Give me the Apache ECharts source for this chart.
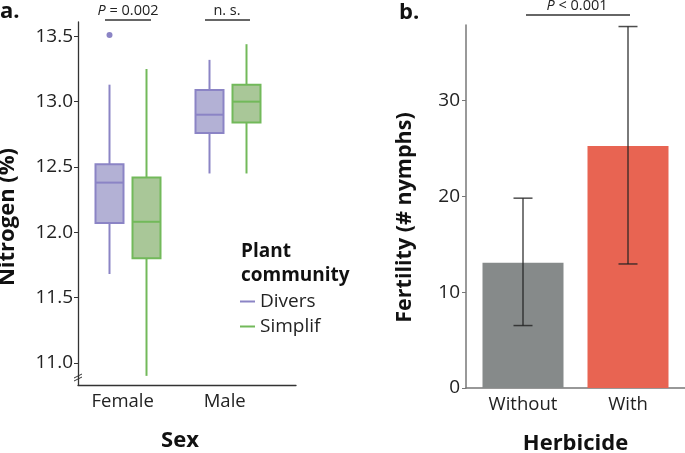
<!DOCTYPE html>
<html><head><meta charset="utf-8">
<script src="https://cdn.jsdelivr.net/npm/echarts@6/dist/echarts.min.js"></script>
<style>html,body{margin:0;padding:0;background:#fff}#c{width:685px;height:453px}</style>
</head><body><div id="c"></div>
<script>
// Panel a: nitrogen boxplots [min, Q1, median, Q3, max]
const sexCategories = ['Female', 'Male'];
const diversBox = [[11.68, 12.07, 12.38, 12.52, 13.13], [12.45, 12.76, 12.90, 13.09, 13.32]];
const simplifBox = [[10.90, 11.80, 12.08, 12.42, 13.25], [12.45, 12.84, 13.00, 13.13, 13.44]];
const diversOutliers = [[0, 13.51]];
const nitrogenTicks = [11.0, 11.5, 12.0, 12.5, 13.0, 13.5];
// Panel b: fertility bars
const herbicideCategories = ['Without', 'With'];
const fertilityMean = [13.08, 25.27];
const fertilityLow = [6.52, 12.95];
const fertilityHigh = [19.82, 37.74];
const fertilityTicks = [0, 10, 20, 30];

const FONT = 'Open Sans';
const aMin = 10.83, aMax = 13.61;
const bMax = 37.9;
const hidY = (min, max, gi) => ({type:'value', gridIndex:gi, min, max, show:false});
const G = (o) => Object.assign({outerBoundsMode:'none', containLabel:false}, o);

function boxRenderer(offsetFrac, fill, stroke) {
  return (params, api) => {
    const band = api.size([1, 0])[0];
    const cx = api.coord([api.value(0), 0])[0] + offsetFrac * band;
    const y = (k) => api.coord([api.value(0), api.value(k)])[1];
    const hw = 14;
    const yMin = y(1), yQ1 = y(2), yMed = y(3), yQ3 = y(4), yMax = y(5);
    const ls = {stroke, lineWidth:2};
    return {type:'group', children:[
      {type:'line', shape:{x1:cx, y1:yMax, x2:cx, y2:yQ3}, style:ls},
      {type:'line', shape:{x1:cx, y1:yQ1, x2:cx, y2:yMin}, style:ls},
      {type:'rect', shape:{x:cx-hw, y:yQ3, width:2*hw, height:yQ1-yQ3}, style:{fill, stroke, lineWidth:2}},
      {type:'line', shape:{x1:cx-hw, y1:yMed, x2:cx+hw, y2:yMed}, style:ls}
    ]};
  };
}
const boxData = (arr) => arr.map((b, i) => [i].concat(b));

const chart = echarts.init(document.getElementById('c'));
chart.setOption({
  animation:false,
  textStyle:{fontFamily:FONT},
  grid:[
    G({left:78, width:218, top:22, bottom:68}),      // 0 axes a
    G({left:78, width:200, top:22, bottom:68}),      // 1 boxes
    G({left:71.7, width:204, top:22, bottom:68}),    // 2 labels a
    G({left:466, right:0, top:25, bottom:65}),       // 3 axes b
    G({left:470.5, width:210, top:25, bottom:65})    // 4 bars b
  ],
  xAxis:[
    {type:'category', gridIndex:0, data:['',''], axisLine:{lineStyle:{color:'#333', width:1.3}}, axisTick:{show:false}, axisLabel:{show:false}},
    {type:'category', gridIndex:1, data:sexCategories, show:false},
    {type:'category', gridIndex:2, data:sexCategories, axisLine:{show:false}, axisTick:{show:false},
     axisLabel:{fontSize:18.5, color:'#222', margin:7, fontFamily:FONT}},
    {type:'category', gridIndex:3, data:['',''], axisLine:{lineStyle:{color:'#777', width:1.5}}, axisTick:{show:false}, axisLabel:{show:false},
     name:'Herbicide', nameLocation:'middle', nameGap:45, nameTextStyle:{fontSize:22, fontWeight:'bold', color:'#111', fontFamily:FONT}},
    {type:'category', gridIndex:4, data:herbicideCategories, axisLine:{show:false}, axisTick:{show:false},
     axisLabel:{fontSize:18.5, color:'#222', margin:7, fontFamily:FONT}}
  ],
  yAxis:[
    {type:'value', gridIndex:0, min:aMin, max:aMax, splitLine:{show:false},
     axisLine:{show:true, lineStyle:{color:'#333', width:1.3}},
     axisTick:{show:true, length:4, customValues:nitrogenTicks, lineStyle:{color:'#333'}},
     axisLabel:{fontSize:19, color:'#222', margin:5, customValues:nitrogenTicks, formatter:v=>v.toFixed(1), fontFamily:FONT},
     name:'Nitrogen (%)', nameLocation:'middle', nameGap:59, nameTextStyle:{fontSize:22, fontWeight:'bold', color:'#111', fontFamily:FONT, padding:[0,27,0,0]}},
    hidY(aMin, aMax, 1), hidY(aMin, aMax, 2),
    {type:'value', gridIndex:3, min:0, max:bMax, splitLine:{show:false},
     axisLine:{show:true, lineStyle:{color:'#777', width:1.5}},
     axisTick:{show:true, length:4, customValues:fertilityTicks, lineStyle:{color:'#777'}},
     axisLabel:{fontSize:19, color:'#222', margin:6, customValues:fertilityTicks, fontFamily:FONT},
     name:'Fertility (# nymphs)', nameLocation:'middle', nameGap:50, nameTextStyle:{fontSize:21.5, fontWeight:'bold', color:'#111', fontFamily:FONT, padding:[0,22,0,0]}},
    hidY(0, bMax, 4)
  ],
  legend:{
    orient:'vertical', left:235, top:286, itemWidth:15, itemHeight:2, itemGap:4,
    icon:'rect',
    textStyle:{fontSize:19, color:'#222', lineHeight:21, fontFamily:FONT},
    data:[{name:'Divers', itemStyle:{color:'#8b84c5', borderWidth:0}}, {name:'Simplif', itemStyle:{color:'#72b95a', borderWidth:0}}]
  },
  series:[
    {name:'Divers', type:'custom', xAxisIndex:1, yAxisIndex:1, data:boxData(diversBox),
     itemStyle:{color:'#8b84c5'}, renderItem:boxRenderer(-0.185, '#b3b1d5', '#8b84c5')},
    {name:'Simplif', type:'custom', xAxisIndex:1, yAxisIndex:1, data:boxData(simplifBox),
     itemStyle:{color:'#72b95a'}, renderItem:boxRenderer(0.185, '#a9c798', '#72b95a')},
    {name:'Divers', type:'custom', xAxisIndex:1, yAxisIndex:1, data:diversOutliers,
     renderItem:(params, api)=>{
       const band = api.size([1, 0])[0];
       const p = api.coord([api.value(0), api.value(1)]);
       return {type:'circle', shape:{cx:p[0]-0.185*band, cy:p[1], r:3}, style:{fill:'#8b84c5'}};
     }},
    {type:'bar', xAxisIndex:4, yAxisIndex:4, barWidth:81, z:2,
     data:fertilityMean.map((v,i)=>({value:v, itemStyle:{color:i===0?'#868a8a':'#e86452'}}))},
    {type:'custom', xAxisIndex:4, yAxisIndex:4, z:10, data:herbicideCategories.map((c,i)=>[i, fertilityLow[i], fertilityHigh[i]]),
     renderItem:(params, api)=>{
       const lo = api.coord([api.value(0), api.value(1)]);
       const hi = api.coord([api.value(0), api.value(2)]);
       const hw = 9.5;
       const st = {stroke:'#222', lineWidth:1.5, opacity:0.8};
       return {type:'group', children:[
         {type:'line', shape:{x1:hi[0], y1:hi[1], x2:lo[0], y2:lo[1]}, style:st},
         {type:'line', shape:{x1:hi[0]-hw, y1:hi[1], x2:hi[0]+hw, y2:hi[1]}, style:st},
         {type:'line', shape:{x1:lo[0]-hw, y1:lo[1], x2:lo[0]+hw, y2:lo[1]}, style:st}
       ]};
     }}
  ],
  graphic:[
    {type:'text', left:0, top:1, style:{text:'a.', font:'bold 22px "Open Sans"', fill:'#111'}},
    {type:'text', left:399, top:2, style:{text:'b.', font:'bold 22px "Open Sans"', fill:'#111'}},
    {type:'text', x:180, y:441, style:{text:'Sex', font:'bold 22px "Open Sans"', fill:'#111', align:'center', verticalAlign:'middle'}},
    {type:'text', x:241, y:264, style:{text:'Plant\ncommunity', font:'bold 19px "Open Sans"', lineHeight:24, fill:'#111', verticalAlign:'middle'}},
    {type:'text', x:128, y:11, style:{text:'{i|P} = 0.002', rich:{i:{fontStyle:'italic', fontSize:14.5, fontFamily:FONT, fill:'#222'}}, font:'14.5px "Open Sans"', fill:'#222', align:'center', verticalAlign:'middle'}},
    {type:'text', x:227, y:11, style:{text:'n. s.', font:'14.5px "Open Sans"', fill:'#222', align:'center', verticalAlign:'middle'}},
    {type:'text', x:577, y:6, style:{text:'{i|P} < 0.001', rich:{i:{fontStyle:'italic', fontSize:14.5, fontFamily:FONT, fill:'#222'}}, font:'14.5px "Open Sans"', fill:'#222', align:'center', verticalAlign:'middle'}},
    {type:'line', shape:{x1:105, y1:20, x2:151, y2:20}, style:{stroke:'#333', lineWidth:1.3}},
    {type:'line', shape:{x1:205, y1:20, x2:250, y2:20}, style:{stroke:'#333', lineWidth:1.3}},
    {type:'line', shape:{x1:526, y1:15, x2:630, y2:15}, style:{stroke:'#333', lineWidth:1.3}},
    {type:'rect', shape:{x:74, y:374, width:8, height:6}, style:{fill:'#fff'}},
    {type:'line', shape:{x1:74, y1:378, x2:82, y2:374}, style:{stroke:'#333', lineWidth:1}},
    {type:'line', shape:{x1:74, y1:381, x2:82, y2:377}, style:{stroke:'#333', lineWidth:1}}
  ]
});
</script></body></html>
